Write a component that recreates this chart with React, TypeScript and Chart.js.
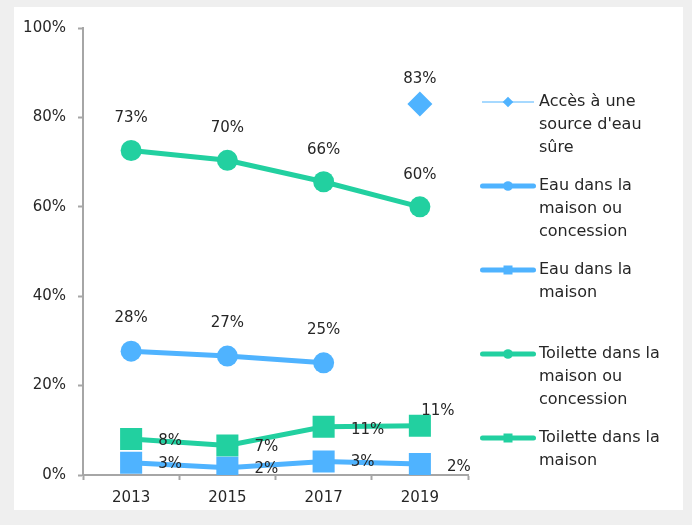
import React, { useEffect, useRef } from "react";
import { Chart, registerables } from "chart.js";

Chart.register(...registerables);

// ---------- data ----------
const years = ["2013", "2015", "2017", "2019"];
const accesSourceSure = [null, null, null, 83];
const eauMaisonConcession = [27.7, 26.6, 25.1, null];
const eauMaison = [2.75, 1.6, 3.0, 2.45];
const toiletteMaisonConcession = [72.6, 70.4, 65.6, 60.0];
const toiletteMaison = [8.05, 6.6, 10.8, 11.0];
const yTicks = [0, 20, 40, 60, 80, 100];

const legendText = [
  ["Accès à une", "source d'eau", "sûre"],
  ["Eau dans la", "maison ou", "concession"],
  ["Eau dans la", "maison"],
  ["Toilette dans la", "maison ou", "concession"],
  ["Toilette dans la", "maison"],
];

// ---------- style ----------
const BLUE = "#4FB3FF";
const GREEN = "#22D0A0";
const AXIS = "#A6A6A6";
const TEXT = "#262626";
const FONT = "DejaVu Sans";

// label offsets per dataset (dx, dy) relative to point centre
const labelOffsets: Array<Array<[number, number]>> = [
  [[0, -25], [0, -25], [0, -25], [0, -25]],
  [[0, -33], [0, -33], [0, -33], [0, -33]],
  [[39, 1], [39, 1], [39, 1], [39, 3]],
  [[0, -32], [0, -32], [0, -32], [0, -32]],
  [[39, 2], [39, 2], [44, 3], [18, -15]],
];

const legendPlugin = {
  id: "sideLegend",
  afterDraw(chart: any) {
    const ctx = chart.ctx as CanvasRenderingContext2D;
    const top = 102;
    const step = 84;
    const lineH = 22.7;
    const x0 = 482.5;
    const x1 = 533.5;
    const mx = 508;
    const tx = 539;
    ctx.save();
    chart.data.datasets.forEach((ds: any, i: number) => {
      const y = top + i * step;
      const thick = ds.borderWidth > 2;
      ctx.strokeStyle = ds.borderColor;
      ctx.fillStyle = ds.borderColor;
      ctx.lineWidth = thick ? 5 : 1;
      ctx.lineCap = thick ? "round" : "butt";
      ctx.beginPath();
      ctx.moveTo(thick ? x0 : 482, y);
      ctx.lineTo(thick ? x1 : 534, y);
      ctx.stroke();
      ctx.beginPath();
      if (ds.pointStyle === "circle") {
        ctx.arc(mx, y, 4.8, 0, Math.PI * 2);
      } else if (ds.pointStyle === "rect") {
        ctx.rect(mx - 4.5, y - 4.5, 9, 9);
      } else {
        const r = 5.3;
        ctx.moveTo(mx, y - r);
        ctx.lineTo(mx + r, y);
        ctx.lineTo(mx, y + r);
        ctx.lineTo(mx - r, y);
        ctx.closePath();
      }
      ctx.fill();
      ctx.fillStyle = TEXT;
      ctx.font = `16px "${FONT}"`;
      ctx.textAlign = "left";
      ctx.textBaseline = "middle";
      legendText[i].forEach((t, k) => ctx.fillText(t, tx, y + k * lineH));
    });
    ctx.restore();
  },
};

const labelPlugin = {
  id: "pointLabels",
  afterDatasetsDraw(chart: any) {
    const ctx = chart.ctx as CanvasRenderingContext2D;
    ctx.save();
    ctx.fillStyle = TEXT;
    ctx.font = `15px "${FONT}"`;
    ctx.textAlign = "center";
    ctx.textBaseline = "middle";
    chart.data.datasets.forEach((ds: any, i: number) => {
      const meta = chart.getDatasetMeta(i);
      meta.data.forEach((pt: any, j: number) => {
        const v = ds.data[j];
        if (v === null || v === undefined) return;
        const [dx, dy] = labelOffsets[i][j];
        ctx.fillText(Math.round(v) + "%", pt.x + dx, pt.y + dy);
      });
    });
    ctx.restore();
  },
};

export default function App() {
  const ref = useRef<HTMLCanvasElement | null>(null);

  useEffect(() => {
    if (!ref.current) return;
    const chart = new Chart(ref.current, {
      type: "line",
      data: {
        labels: years,
        datasets: [
          {
            label: legendText[0].join(" "),
            data: accesSourceSure,
            borderColor: BLUE,
            backgroundColor: BLUE,
            borderWidth: 1,
            pointStyle: "rectRot",
            pointRadius: 12.5,
            pointBorderWidth: 0,
          },
          {
            label: legendText[1].join(" "),
            data: eauMaisonConcession,
            borderColor: BLUE,
            backgroundColor: BLUE,
            borderWidth: 5,
            pointStyle: "circle",
            pointRadius: 10.5,
            pointBorderWidth: 0,
          },
          {
            label: legendText[2].join(" "),
            data: eauMaison,
            borderColor: BLUE,
            backgroundColor: BLUE,
            borderWidth: 5,
            pointStyle: "rect",
            pointRadius: 15.6,
            pointBorderWidth: 0,
          },
          {
            label: legendText[3].join(" "),
            data: toiletteMaisonConcession,
            borderColor: GREEN,
            backgroundColor: GREEN,
            borderWidth: 5,
            pointStyle: "circle",
            pointRadius: 10.5,
            pointBorderWidth: 0,
          },
          {
            label: legendText[4].join(" "),
            data: toiletteMaison,
            borderColor: GREEN,
            backgroundColor: GREEN,
            borderWidth: 5,
            pointStyle: "rect",
            pointRadius: 15.6,
            pointBorderWidth: 0,
          },
        ],
      },
      options: {
        animation: false,
        responsive: false,
        layout: { padding: { top: 28, right: 224, left: 0, bottom: 0 } },
        plugins: {
          legend: { display: false },
          tooltip: { enabled: false },
        },
        elements: { line: { tension: 0 } },
        scales: {
          x: {
            type: "category",
            offset: true,
            grid: {
              offset: true,
              drawOnChartArea: false,
              drawTicks: true,
              tickLength: 5,
              tickColor: AXIS,
              tickWidth: 2,
              color: AXIS,
            },
            border: { color: AXIS, width: 2 },
            ticks: {
              color: TEXT,
              font: { family: FONT, size: 15 },
              padding: 9,
              maxRotation: 0,
            },
            afterFit: (s: any) => {
              s.height = 50;
            },
          },
          y: {
            min: 0,
            max: 100,
            afterBuildTicks: (s: any) => {
              s.ticks = yTicks.map((v) => ({ value: v }));
            },
            grid: {
              drawOnChartArea: false,
              drawTicks: true,
              tickLength: 5,
              tickColor: AXIS,
              tickWidth: 2,
              color: AXIS,
            },
            border: { color: AXIS, width: 2 },
            ticks: {
              color: TEXT,
              font: { family: FONT, size: 15 },
              padding: 12,
              callback: (v: any) => v + "%",
            },
            afterFit: (s: any) => {
              s.width = 83;
            },
          },
        },
      },
      plugins: [labelPlugin, legendPlugin],
    });
    return () => chart.destroy();
  }, []);

  return (
    <div
      style={{
        position: "fixed",
        left: 0,
        top: 0,
        width: 692,
        height: 525,
        background: "#EFEFEF",
        overflow: "hidden",
      }}
    >
      <div
        style={{
          position: "absolute",
          left: 14,
          top: 7,
          width: 669,
          height: 503,
          background: "#FFFFFF",
        }}
      />
      <canvas
        ref={ref}
        width={692}
        height={525}
        style={{ position: "absolute", left: 0, top: 0 }}
      />
    </div>
  );
}
